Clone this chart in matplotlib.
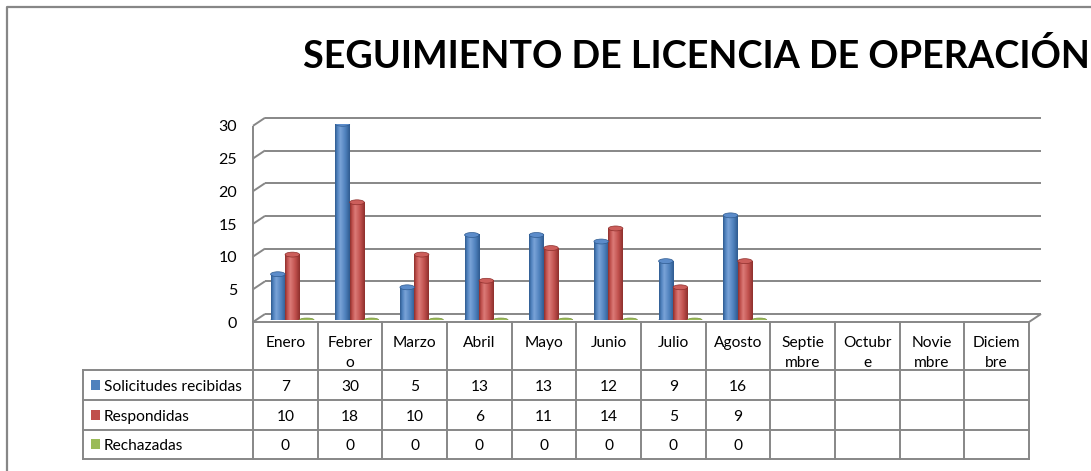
import matplotlib
matplotlib.use('Agg')
import matplotlib.pyplot as plt
import numpy as np
from matplotlib.patches import Rectangle, Ellipse
from matplotlib.colors import LinearSegmentedColormap

plt.rcParams['font.family'] = ['Lato', 'DejaVu Sans']

# datos
titulo = 'SEGUIMIENTO DE LICENCIA DE OPERACIÓN'
etiquetas_meses = ['Enero', 'Febrer\no', 'Marzo', 'Abril', 'Mayo', 'Junio', 'Julio',
                   'Agosto', 'Septie\nmbre', 'Octubr\ne', 'Novie\nmbre', 'Diciem\nbre']
series = ['Solicitudes recibidas', 'Respondidas', 'Rechazadas']
solicitudes = [7, 30, 5, 13, 13, 12, 9, 16]
respondidas = [10, 18, 10, 6, 11, 14, 5, 9]
rechazadas = [0, 0, 0, 0, 0, 0, 0, 0]
yticks = [0, 5, 10, 15, 20, 25, 30]

azul = ('#4f81bd', '#2f5b90', '#7aa3d8', '#5c8cca')
rojo = ('#c0504d', '#8e2f2c', '#dc7b78', '#cc5e5b')
verde = ('#9bbb59', '#76923c')

W, H = 1091, 471
fig = plt.figure(figsize=(W / 100, H / 100), dpi=100)

# capa de fondo en pixeles (marco, tabla, titulo)
bg = fig.add_axes([0, 0, 1, 1])
bg.set_xlim(0, W)
bg.set_ylim(H, 0)
bg.axis('off')

# ejes de las barras
AX_L, AX_R, Y0, Y30 = 260, 1036, 320, 123.8
ax = fig.add_axes([AX_L / W, (H - Y0) / H, (AX_R - AX_L) / W, (Y0 - Y30) / H])
ax.patch.set_visible(False)
ax.axis('off')
pxx = (AX_R - AX_L) / 12
pxy = (Y0 - Y30) / 30
fdx, fdy = -7 / pxx, -2 / pxy   # plano frontal
bdx, bdy = 5 / pxx, 6 / pxy     # pared del fondo

gris = '#878787'
grid = dict(color=gris, lw=1.4, clip_on=False, zorder=1, solid_capstyle='butt')
for v in yticks:
    ax.plot([-0.5 + bdx, 11.5 + bdx], [v + bdy, v + bdy], **grid)
    ax.plot([-0.5 + fdx, -0.5 + bdx], [v + fdy, v + bdy], **grid)
    ax.text(-0.5 + fdx - 16 / pxx, v + fdy - 0.25, str(v), ha='right', va='center',
            fontsize=11.5)
ax.plot([-0.5 + fdx, 11.5 + fdx], [fdy, fdy], **grid)
ax.plot([11.5 + fdx, 11.5 + bdx], [fdy, bdy], **grid)
ax.plot([-0.5 + fdx, -0.5 + fdx], [fdy, 30 + fdy], **grid)

w = 0.224


def cilindro(x, h, col):
    base, dark, light, top = col
    cmap = LinearSegmentedColormap.from_list('c', [(0, dark), (0.15, base), (0.35, light),
                                                   (0.7, base), (1, dark)])
    ax.imshow(np.linspace(0, 1, 64)[None, :], extent=[x - w / 2, x + w / 2, 0, h],
              aspect='auto', cmap=cmap, zorder=3, interpolation='bilinear')
    ax.add_patch(Ellipse((x, 0), w, 0.7, fc=dark, ec='none', zorder=2.9))
    ax.add_patch(Ellipse((x, h), w, 0.75, fc=top, ec=dark, lw=0.5, zorder=3.1))


for i in range(len(solicitudes)):
    cilindro(i - w, solicitudes[i], azul)
    cilindro(i, respondidas[i], rojo)
    ax.add_patch(Ellipse((i + w, rechazadas[i]), w, 0.6, fc=verde[0], ec=verde[1],
                         lw=0.5, zorder=3))

ax.set_xlim(-0.5, 11.5)
ax.set_ylim(0, 30)

# tabla de datos
X0, CW = 253, (1029 - 253) / 12
filas = [322, 370, 400, 430, 459]
tl = dict(color=gris, lw=1.4, solid_capstyle='projecting')
for k in range(13):
    bg.plot([X0 + k * CW] * 2, [filas[0], filas[-1]], **tl)
for y in filas[1:]:
    bg.plot([83, X0 + 12 * CW], [y, y], **tl)
bg.plot([83, 83], [filas[1], filas[-1]], **tl)

fs = 11.2
for k, lab in enumerate(etiquetas_meses):
    for j, t in enumerate(lab.split('\n')):
        bg.text(X0 + (k + 0.5) * CW, 347 + 20 * j, t, ha='center', va='baseline', fontsize=fs)

for r, (nombre, vals, col) in enumerate(zip(series, [solicitudes, respondidas, rechazadas],
                                            [azul[0], rojo[0], verde[0]])):
    yb = filas[r + 2] - 9
    bg.add_patch(Rectangle((91, yb - 11), 9, 10, fc=col, ec='none'))
    bg.text(104, yb, nombre, ha='left', va='baseline', fontsize=fs)
    for k, v in enumerate(vals):
        bg.text(X0 + (k + 0.5) * CW, yb, str(v), ha='center', va='baseline', fontsize=fs)

# marco y titulo
bg.plot([7, 7, W + 5], [H + 5, 7, 7], color=gris, lw=1.6)
bg.text(303, 68, titulo, fontsize=27.2, fontweight='bold', ha='left', va='baseline')

fig.savefig('out.png', dpi=100)
